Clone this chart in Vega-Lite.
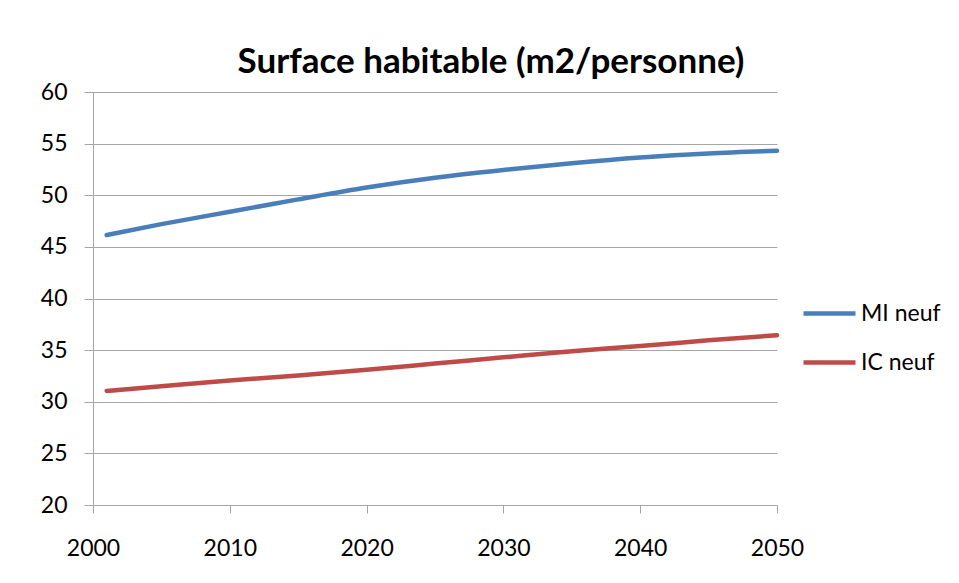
{
  "$schema": "https://vega.github.io/schema/vega-lite/v6.json",
  "width": 684,
  "height": 413,
  "autosize": {"type": "none"},
  "padding": {"left": 93, "top": 92, "right": 182, "bottom": 78},
  "background": "white",
  "title": {
    "text": "Surface habitable (m2/personne)",
    "font": "Lato",
    "fontSize": 35,
    "fontWeight": "bold",
    "color": "#000000",
    "anchor": "middle",
    "dx": 56,
    "offset": 1
  },
  "data": {
    "values": [
      {"annee": 2001, "serie": "MI neuf", "valeur": 46.15},
      {"annee": 2005, "serie": "MI neuf", "valeur": 47.2},
      {"annee": 2010, "serie": "MI neuf", "valeur": 48.4},
      {"annee": 2015, "serie": "MI neuf", "valeur": 49.6},
      {"annee": 2020, "serie": "MI neuf", "valeur": 50.75},
      {"annee": 2025, "serie": "MI neuf", "valeur": 51.7},
      {"annee": 2030, "serie": "MI neuf", "valeur": 52.45},
      {"annee": 2035, "serie": "MI neuf", "valeur": 53.1},
      {"annee": 2040, "serie": "MI neuf", "valeur": 53.65},
      {"annee": 2045, "serie": "MI neuf", "valeur": 54.05},
      {"annee": 2050, "serie": "MI neuf", "valeur": 54.3},
      {"annee": 2001, "serie": "IC neuf", "valeur": 31.05},
      {"annee": 2005, "serie": "IC neuf", "valeur": 31.5},
      {"annee": 2010, "serie": "IC neuf", "valeur": 32.05},
      {"annee": 2015, "serie": "IC neuf", "valeur": 32.55},
      {"annee": 2020, "serie": "IC neuf", "valeur": 33.1},
      {"annee": 2025, "serie": "IC neuf", "valeur": 33.7},
      {"annee": 2030, "serie": "IC neuf", "valeur": 34.3},
      {"annee": 2035, "serie": "IC neuf", "valeur": 34.9},
      {"annee": 2040, "serie": "IC neuf", "valeur": 35.4},
      {"annee": 2045, "serie": "IC neuf", "valeur": 35.95},
      {"annee": 2050, "serie": "IC neuf", "valeur": 36.45}
    ]
  },
  "mark": {"type": "line", "strokeWidth": 4.5, "interpolate": "monotone", "strokeCap": "round"},
  "encoding": {
    "x": {
      "field": "annee",
      "type": "quantitative",
      "scale": {"domain": [2000, 2050], "nice": false, "zero": false},
      "axis": {
        "title": null,
        "values": [2000, 2010, 2020, 2030, 2040, 2050],
        "format": "d",
        "grid": false,
        "domainColor": "#a6a6a6",
        "tickColor": "#a6a6a6",
        "tickSize": 8,
        "labelFont": "Lato",
        "labelFontSize": 23,
        "labelColor": "#000000",
        "labelPadding": 24,
        "labelFlush": false
      }
    },
    "y": {
      "field": "valeur",
      "type": "quantitative",
      "scale": {"domain": [20, 60], "nice": false, "zero": false},
      "axis": {
        "title": null,
        "values": [20, 25, 30, 35, 40, 45, 50, 55, 60],
        "grid": true,
        "gridColor": "#a6a6a6",
        "gridWidth": 1.2,
        "domainColor": "#a6a6a6",
        "tickColor": "#a6a6a6",
        "tickSize": 9,
        "labelFont": "Lato",
        "labelFontSize": 23,
        "labelColor": "#000000",
        "labelPadding": 17
      }
    },
    "color": {
      "field": "serie",
      "type": "nominal",
      "scale": {"domain": ["MI neuf", "IC neuf"], "range": ["#4a7ebb", "#be4b48"]},
      "legend": {
        "title": null,
        "orient": "none",
        "legendX": 708,
        "legendY": 193,
        "symbolType": "stroke",
        "symbolSize": 2704,
        "symbolStrokeWidth": 4.5,
        "labelFont": "Lato",
        "labelFontSize": 23,
        "labelColor": "#000000",
        "labelOffset": 3,
        "rowPadding": 8
      }
    }
  },
  "config": {
    "view": {"stroke": null}
  }
}
